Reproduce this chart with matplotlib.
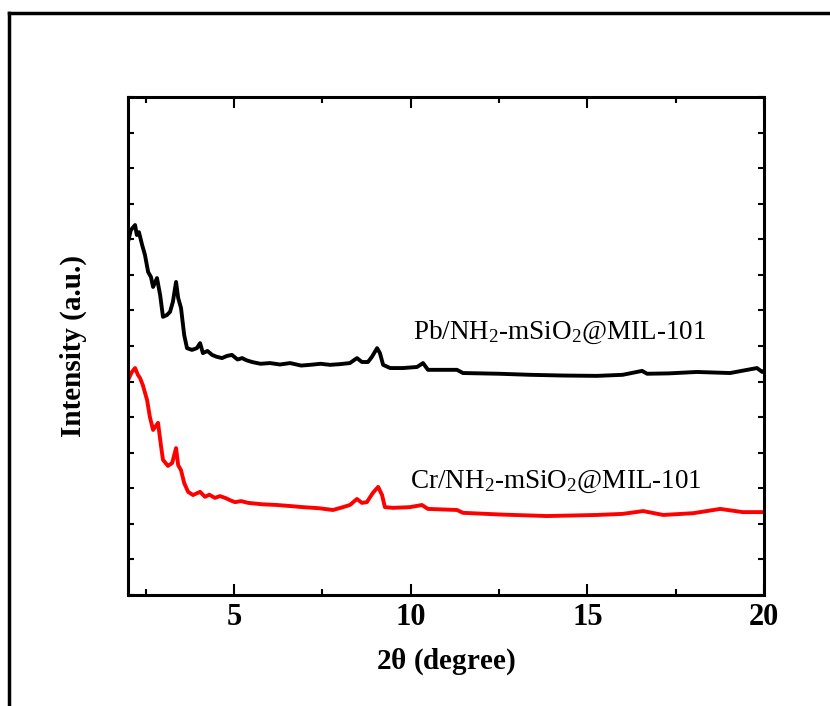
import matplotlib
matplotlib.use("Agg")
import matplotlib.pyplot as plt
from matplotlib.ticker import MultipleLocator
from matplotlib.lines import Line2D

plt.rcParams['font.family'] = ['Liberation Serif', 'DejaVu Serif']
plt.rcParams['mathtext.fontset'] = 'custom'
plt.rcParams['mathtext.rm'] = 'Liberation Serif'
plt.rcParams['mathtext.it'] = 'Liberation Serif:italic'
plt.rcParams['mathtext.bf'] = 'Liberation Serif:bold'

# Pb/NH2-mSiO2@MIL-101 (black)
pb_x = [2.0, 2.08, 2.2, 2.25, 2.31, 2.4, 2.48, 2.57, 2.65, 2.71, 2.82, 2.91, 2.99,
        3.1, 3.19, 3.27, 3.36, 3.42, 3.5, 3.59, 3.67, 3.81, 3.95, 4.04, 4.12, 4.25,
        4.38, 4.5, 4.66, 4.8, 4.94, 5.1, 5.23, 5.35, 5.51, 5.75, 6.02, 6.3, 6.59,
        6.9, 7.15, 7.45, 7.72, 8.0, 8.28, 8.48, 8.62, 8.79, 8.9,
        9.05, 9.13, 9.22, 9.42, 9.78, 10.18, 10.35, 10.49, 11.31, 11.48, 12.5, 13.38,
        14.3, 15.27, 16.0, 16.55, 16.69, 17.3, 18.1, 19.04, 19.8, 19.95, 20.0]
pb_y = [9.92, 10.26, 10.40, 10.12, 10.2, 9.84, 9.56, 9.08, 8.94, 8.66, 8.91, 8.43, 7.82,
        7.87, 7.96, 8.24, 8.80, 8.35, 8.07, 7.31, 6.94, 6.89, 6.94, 7.08, 6.80, 6.86,
        6.75, 6.70, 6.66, 6.72, 6.75, 6.62, 6.66, 6.60, 6.55, 6.50, 6.52, 6.48, 6.52,
        6.45, 6.47, 6.50, 6.47, 6.49, 6.52, 6.66, 6.55, 6.55, 6.69,
        6.94, 6.80, 6.47, 6.38, 6.38, 6.41, 6.52, 6.33, 6.33, 6.24, 6.22, 6.19,
        6.17, 6.16, 6.19, 6.30, 6.22, 6.23, 6.27, 6.24, 6.38, 6.27, 6.30]

# Cr/NH2-mSiO2@MIL-101 (red)
cr_x = [2.0, 2.11, 2.2, 2.28, 2.34, 2.42, 2.54, 2.62, 2.71, 2.85, 2.93, 2.99, 3.13,
        3.25, 3.36, 3.42, 3.5, 3.59, 3.7, 3.84, 4.04, 4.18, 4.3, 4.46, 4.6, 4.75,
        4.9, 5.03, 5.2, 5.4, 5.8, 6.22, 6.6, 6.95, 7.4, 7.8, 8.05, 8.28, 8.48, 8.62,
        8.76, 8.93, 9.08, 9.19, 9.27, 9.5, 9.98,
        10.32, 10.49, 11.31, 11.48, 12.6, 13.86, 15.27, 16.0, 16.58, 17.15, 18.0,
        18.76, 19.4, 20.0]
cr_y = [6.04, 6.27, 6.38, 6.19, 6.1, 5.90, 5.48, 5.0, 4.64, 4.84, 4.22, 3.80, 3.63,
        3.71, 4.13, 3.65, 3.51, 3.15, 2.90, 2.81, 2.90, 2.76, 2.82, 2.73, 2.78, 2.73,
        2.66, 2.61, 2.64, 2.59, 2.55, 2.53, 2.50, 2.47, 2.44, 2.39, 2.46, 2.53, 2.70, 2.59,
        2.61, 2.87, 3.04, 2.81, 2.47, 2.45, 2.47,
        2.53, 2.42, 2.39, 2.31, 2.26, 2.22, 2.25, 2.28, 2.36, 2.25, 2.30,
        2.42, 2.33, 2.33]

labels = [r'Pb/NH$_2$-mSiO$_2$@MIL-101', r'Cr/NH$_2$-mSiO$_2$@MIL-101']

W, H = 830, 706
fig = plt.figure(figsize=(W / 100, H / 100), dpi=100)
ax = fig.add_axes([128 / W, 1 - 595 / H, (764 - 128) / W, (595 - 97) / H])

ax.plot(pb_x, pb_y, color='black', lw=2.8)
ax.plot(cr_x, cr_y, color='#ff0000', lw=2.8)

ax.text(10.07, 7.39, labels[0], fontsize=19.5, va='center', ha='left')
ax.text(9.98, 3.18, labels[1], fontsize=19.5, va='center', ha='left')

ax.set_xlim(2, 20)
ax.set_ylim(0, 14)
ax.xaxis.set_major_locator(MultipleLocator(5))
ax.xaxis.set_minor_locator(MultipleLocator(2.5))
ax.yaxis.set_major_locator(MultipleLocator(1))
ax.set_yticklabels([])
ax.tick_params(axis='both', which='both', direction='in', top=True, right=True, width=1.5)
ax.tick_params(axis='x', which='major', length=8, labelsize=22, pad=6)
ax.tick_params(axis='x', which='minor', length=4)
ax.tick_params(axis='y', which='major', length=4)
for lab in ax.get_xticklabels():
    lab.set_fontweight('bold')
for s in ax.spines.values():
    s.set_linewidth(2.2)

ax.set_xlabel(r'2$\mathbf{\theta}$ (degree)', fontsize=21, fontweight='bold', labelpad=10)
ax.set_ylabel('Intensity (a.u.)', fontsize=21, fontweight='bold', labelpad=26)

# outer frame
fig.add_artist(Line2D([9 / W, 9 / W], [0, 1 - 13 / H], transform=fig.transFigure, color='black', lw=2.5))
fig.add_artist(Line2D([9 / W, 1], [1 - 13 / H, 1 - 13 / H], transform=fig.transFigure, color='black', lw=2.5))

fig.savefig('out.png', dpi=100)
